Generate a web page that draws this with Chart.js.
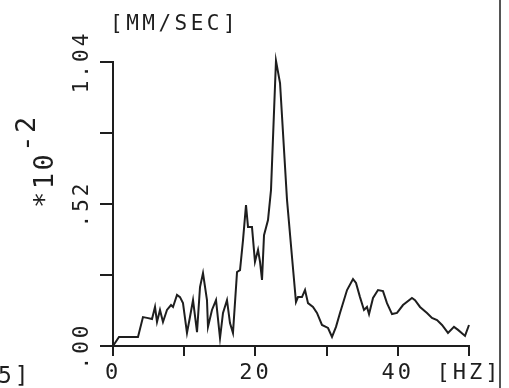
<!DOCTYPE html>
<html>
<head>
<meta charset="utf-8">
<script src="https://cdn.jsdelivr.net/npm/chart.js@4"></script>
<style>
  html, body { margin: 0; padding: 0; background: #fff; }
  canvas { display: block; }
</style>
</head>
<body>
<canvas id="spectrum" width="509" height="388"></canvas>
<script>
// frekvens (Hz) och hastighet (*10^-2 mm/sek) avläst från plotten
const freqHz = [
  0, 0.84, 3.51, 4.21, 4.78, 5.48, 5.9, 6.18, 6.6, 7.02, 7.58, 8.15, 8.43,
  8.99, 9.41, 9.83, 10.39, 10.81, 11.24, 11.8, 12.22, 12.64, 13.2, 13.34,
  13.9, 14.47, 15.03, 15.45, 16.01, 16.43, 16.85, 17.42, 17.84, 18.26, 18.68,
  18.96, 19.52, 19.94, 20.37, 20.65, 20.93, 21.21, 21.77, 22.19, 22.89, 23.46,
  24.44, 25.14, 25.7, 25.98, 26.54, 26.97, 27.39, 28.09, 28.65, 29.35, 30.2,
  30.76, 31.32, 31.88, 32.87, 33.71, 34.13, 34.69, 35.25, 35.67, 35.96, 36.52,
  37.22, 37.92, 38.48, 39.19, 39.89, 40.73, 41.99, 42.42, 43.12, 44.1, 44.8,
  45.51, 46.21, 47.05, 47.89, 48.46, 49.44, 50,
];

const velocity = [
  0, 0.033, 0.033, 0.106, 0.103, 0.099, 0.143, 0.088, 0.132, 0.088, 0.132,
  0.15, 0.143, 0.187, 0.179, 0.157, 0.048, 0.106, 0.168, 0.051, 0.216, 0.267,
  0.168, 0.07, 0.132, 0.168, 0.029, 0.121, 0.168, 0.084, 0.048, 0.271, 0.278,
  0.388, 0.516, 0.436, 0.436, 0.308, 0.352, 0.308, 0.242, 0.406, 0.461, 0.571,
  1.045, 0.963, 0.535, 0.326, 0.161, 0.179, 0.179, 0.205, 0.157, 0.143, 0.121,
  0.077, 0.066, 0.033, 0.07, 0.121, 0.205, 0.245, 0.231, 0.179, 0.132, 0.143,
  0.117, 0.176, 0.205, 0.201, 0.157, 0.117, 0.121, 0.15, 0.176, 0.168, 0.143,
  0.121, 0.103, 0.095, 0.077, 0.048, 0.07, 0.059, 0.037, 0.077,
];

const xTickLabels = ["0", "", "20", "", "40", "[HZ]"];
const yTickLabels = [".00", "", ".52", "", "1.04"];

const ink = "#1e1e1e";
const mono = "'DejaVu Sans Mono', monospace";

const points = freqHz.map((f, i) => ({ x: f, y: velocity[i] }));

// extra texter runt diagrammet (enhet, exponent, kant)
const extraText = {
  id: "extraText",
  beforeDraw(chart) {
    chart.ctx.letterSpacing = "3px";
  },
  afterDraw(chart) {
    const ctx = chart.ctx;
    ctx.save();
    ctx.fillStyle = ink;
    ctx.textBaseline = "alphabetic";
    ctx.textAlign = "left";

    ctx.letterSpacing = "3.5px";
    ctx.font = "21px " + mono;
    ctx.fillText("[MM/SEC]", 110, 30);

    ctx.font = "23px " + mono;
    ctx.letterSpacing = "3px";
    ctx.fillText("5]", -2, 383);

    ctx.save();
    ctx.translate(53, 208);
    ctx.rotate(-Math.PI / 2);
    ctx.font = "27px " + mono;
    ctx.letterSpacing = "2.5px";
    ctx.fillText("*10", 0, 0);
    const w = ctx.measureText("*10").width;
    ctx.fillText("-2", w, -18);
    ctx.restore();

    // sidkant till höger
    ctx.strokeStyle = "#555";
    ctx.lineWidth = 2;
    ctx.beginPath();
    ctx.moveTo(500, 0);
    ctx.lineTo(500, 388);
    ctx.stroke();
    ctx.restore();
  },
};

new Chart(document.getElementById("spectrum"), {
  type: "line",
  data: {
    datasets: [
      {
        data: points,
        borderColor: ink,
        borderWidth: 2,
        pointRadius: 0,
        tension: 0,
        clip: false,
      },
    ],
  },
  options: {
    responsive: false,
    animation: false,
    layout: { padding: { left: 0, top: 62, right: 40, bottom: 0 } },
    plugins: { legend: { display: false }, tooltip: { enabled: false } },
    scales: {
      x: {
        type: "linear",
        min: 0,
        max: 50,
        border: { display: true, color: ink, width: 2 },
        grid: { drawOnChartArea: false, tickLength: 10, color: ink, lineWidth: 2 },
        ticks: {
          stepSize: 10,
          autoSkip: false,
          maxRotation: 0,
          padding: 4,
          color: ink,
          font: { family: mono, size: 22 },
          callback: (value, index) => xTickLabels[index],
        },
        afterFit(scale) {
          scale.height = 42;
          scale.paddingLeft = 0;
          scale.paddingRight = 0;
        },
      },
      y: {
        min: 0,
        max: 1.04,
        border: { display: true, color: ink, width: 2 },
        grid: { drawOnChartArea: false, tickLength: 13, color: ink, lineWidth: 2 },
        ticks: {
          stepSize: 0.26,
          autoSkip: false,
          minRotation: 90,
          maxRotation: 90,
          crossAlign: "center",
          padding: -8,
          color: ink,
          font: { family: mono, size: 21 },
          callback: (value, index) => yTickLabels[index],
        },
        afterFit(scale) {
          scale.width = 113;
          scale.paddingTop = 0;
          scale.paddingBottom = 0;
        },
      },
    },
  },
  plugins: [extraText],
});
</script>
</body>
</html>
